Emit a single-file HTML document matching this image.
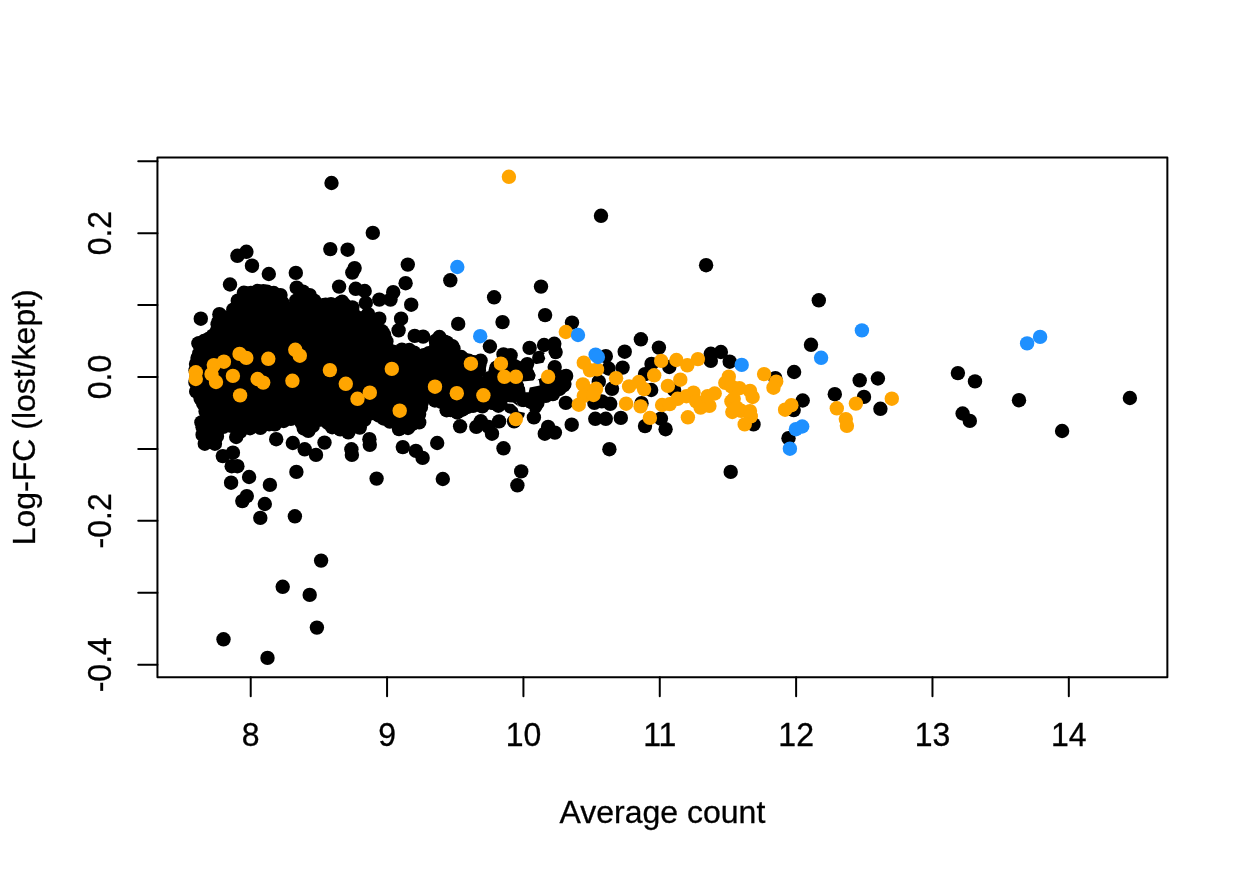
<!DOCTYPE html><html><head><meta charset="utf-8"><title>plot</title><style>html,body{margin:0;padding:0;background:#fff}svg{display:block;will-change:transform}text{font-family:"Liberation Sans",sans-serif;font-size:32px;fill:#000;stroke:#000;stroke-width:0.3px}</style></head><body>
<svg width="1248" height="873" viewBox="0 0 1248 873">
<rect width="1248" height="873" fill="#fff"/>
<path fill="#000" fill-rule="evenodd" d="M201.0,353.4 L201.1,354.2 L201.1,355.0 L201.0,355.8 L200.8,356.6 L197.3,370.5 L197.3,383.4 L200.5,398.0 L206.8,406.4 L207.3,407.1 L207.7,407.9 L208.0,408.7 L208.3,409.6 L208.4,410.4 L208.5,411.3 L208.5,412.1 L208.4,413.0 L208.2,413.9 L208.0,414.7 L205.0,422.7 L205.7,430.6 L210.9,437.0 L214.4,436.4 L214.8,432.9 L215.0,432.1 L215.2,431.3 L215.5,430.5 L215.9,429.7 L216.3,429.0 L216.8,428.4 L217.4,427.7 L218.1,427.2 L218.8,426.7 L219.5,426.3 L220.3,425.9 L221.1,425.7 L229.8,423.2 L230.6,423.0 L231.4,422.9 L232.3,422.8 L233.1,422.9 L233.9,423.0 L234.8,423.2 L235.5,423.5 L236.3,423.9 L237.0,424.3 L237.7,424.8 L238.3,425.4 L238.9,426.0 L239.4,426.7 L240.4,428.3 L246.3,425.9 L247.1,425.7 L247.9,425.5 L248.7,425.4 L249.6,425.3 L263.1,425.3 L276.6,420.8 L291.5,415.8 L292.3,415.6 L293.2,415.4 L294.0,415.4 L294.8,415.4 L295.6,415.5 L296.4,415.6 L297.2,415.9 L298.0,416.2 L298.7,416.6 L299.4,417.0 L300.1,417.6 L300.7,418.1 L301.2,418.8 L301.7,419.5 L302.1,420.2 L305.8,427.5 L307.5,428.4 L313.0,422.9 L313.7,422.3 L314.4,421.8 L315.1,421.3 L315.9,421.0 L316.7,420.7 L317.6,420.5 L318.5,420.4 L319.3,420.3 L320.2,420.4 L321.1,420.6 L321.9,420.8 L336.8,425.8 L348.6,429.7 L360.0,424.8 L363.6,417.7 L364.0,416.9 L364.5,416.2 L365.1,415.6 L365.7,415.0 L366.4,414.4 L367.1,414.0 L367.9,413.6 L368.7,413.3 L369.6,413.1 L370.4,412.9 L371.3,412.9 L372.2,412.9 L373.0,413.0 L373.9,413.3 L386.3,417.0 L387.0,417.2 L387.7,417.6 L388.4,417.9 L396.2,422.8 L407.2,422.8 L416.0,419.9 L417.5,412.4 L417.6,412.0 L420.1,402.1 L420.4,401.2 L420.7,400.4 L421.1,399.7 L421.6,398.9 L422.2,398.3 L422.8,397.7 L423.5,397.1 L424.2,396.6 L425.0,396.3 L425.8,395.9 L426.6,395.7 L427.5,395.6 L428.4,395.5 L429.2,395.5 L430.1,395.6 L430.9,395.8 L431.8,396.1 L443.6,400.8 L444.4,401.2 L445.2,401.7 L445.9,402.2 L446.5,402.8 L447.1,403.5 L447.6,404.2 L448.1,404.9 L448.5,405.8 L448.7,406.6 L448.9,407.5 L449.2,409.1 L454.0,409.4 L459.2,409.7 L459.5,409.2 L460.0,408.5 L460.6,407.9 L461.2,407.3 L461.9,406.9 L462.6,406.4 L463.4,406.1 L464.2,405.8 L465.0,405.6 L465.8,405.5 L466.5,405.4 L474.1,402.2 L475.0,401.9 L475.9,401.7 L476.7,401.5 L477.6,401.5 L478.5,401.6 L479.4,401.7 L483.6,402.6 L499.7,402.6 L499.7,402.0 L499.9,401.2 L500.1,400.3 L500.4,399.5 L500.7,398.8 L501.2,398.0 L501.7,397.4 L502.2,396.7 L502.9,396.2 L503.6,395.7 L504.3,395.2 L505.1,394.9 L505.9,394.6 L506.7,394.4 L507.5,394.3 L508.4,394.2 L513.0,394.2 L513.9,394.3 L514.7,394.4 L515.6,394.6 L516.4,394.9 L517.2,395.3 L517.9,395.8 L517.8,395.5 L517.5,394.7 L517.3,393.8 L516.7,390.3 L515.2,388.9 L514.6,388.2 L514.1,387.5 L513.7,386.7 L513.3,385.9 L513.0,385.0 L512.8,384.2 L512.7,383.3 L512.7,382.4 L512.8,381.5 L513.0,380.6 L513.5,378.4 L513.8,377.5 L514.1,376.7 L514.5,376.0 L515.0,375.3 L515.5,374.6 L516.2,374.0 L516.8,373.4 L517.6,373.0 L518.3,372.6 L519.1,372.2 L520.0,372.0 L520.8,371.8 L521.7,371.8 L522.5,371.8 L523.4,371.9 L524.6,372.1 L524.4,371.5 L524.2,370.7 L524.0,369.9 L523.9,369.1 L523.9,368.4 L523.8,368.4 L522.9,368.6 L522.1,368.6 L521.3,368.6 L520.5,368.5 L516.0,367.7 L507.0,366.2 L499.1,366.9 L498.9,367.1 L496.9,373.7 L496.4,379.5 L496.3,380.3 L496.1,381.2 L495.8,382.0 L495.5,382.7 L495.0,383.5 L494.5,384.2 L494.0,384.8 L493.4,385.4 L492.7,385.9 L492.0,386.4 L491.2,386.7 L490.4,387.0 L489.6,387.3 L488.8,387.4 L487.9,387.5 L487.1,387.5 L486.3,387.4 L485.4,387.2 L484.6,386.9 L483.8,386.6 L483.1,386.2 L478.6,383.4 L477.9,382.9 L477.2,382.3 L476.6,381.6 L476.1,380.9 L475.6,380.2 L475.2,379.4 L474.9,378.6 L474.7,377.7 L474.6,376.9 L474.5,376.0 L474.6,375.1 L474.7,374.2 L474.9,373.4 L475.2,372.6 L476.6,369.3 L477.6,365.1 L477.1,364.8 L475.6,364.7 L474.8,364.6 L474.1,364.4 L464.9,362.0 L464.0,361.7 L463.2,361.4 L456.3,357.9 L455.6,357.5 L454.8,357.0 L454.2,356.4 L453.6,355.8 L453.0,355.1 L452.6,354.3 L452.2,353.5 L451.9,352.7 L451.7,351.9 L451.1,348.9 L450.5,348.6 L449.7,348.2 L449.1,347.7 L444.3,343.9 L443.7,343.4 L443.1,342.8 L443.1,342.7 L443.1,342.7 L442.3,342.3 L441.7,341.8 L441.2,341.4 L438.1,342.0 L437.0,346.6 L436.7,347.5 L436.4,348.2 L436.0,349.0 L435.5,349.7 L435.0,350.4 L434.4,351.0 L433.7,351.5 L433.0,352.0 L432.3,352.4 L431.5,352.7 L430.7,353.0 L420.7,355.4 L419.8,355.6 L419.0,355.7 L418.1,355.7 L417.2,355.6 L416.4,355.4 L415.5,355.1 L414.7,354.8 L407.3,351.1 L395.2,353.1 L394.3,353.2 L393.5,353.2 L392.6,353.2 L391.8,353.0 L391.0,352.8 L390.2,352.5 L389.5,352.1 L388.7,351.6 L388.1,351.1 L387.5,350.5 L386.9,349.9 L386.4,349.2 L386.0,348.5 L385.6,347.7 L385.4,346.9 L383.2,339.2 L378.7,331.4 L378.2,330.4 L374.8,321.8 L358.8,316.8 L358.1,316.5 L357.4,316.2 L356.7,315.8 L341.5,306.0 L332.4,306.0 L320.9,308.3 L320.0,308.4 L319.2,308.5 L318.3,308.4 L317.5,308.3 L316.6,308.1 L315.8,307.8 L315.1,307.4 L314.3,307.0 L313.6,306.5 L313.0,305.9 L304.5,297.4 L302.8,296.8 L299.8,309.3 L299.5,310.1 L299.2,310.9 L298.8,311.6 L298.3,312.4 L297.8,313.0 L297.2,313.6 L296.6,314.2 L295.8,314.7 L295.1,315.1 L294.3,315.4 L293.5,315.7 L292.6,315.8 L291.8,315.9 L290.9,315.9 L290.1,315.8 L289.2,315.7 L288.4,315.4 L287.6,315.1 L286.9,314.7 L286.2,314.2 L285.5,313.7 L284.9,313.1 L284.3,312.4 L283.9,311.7 L283.5,311.0 L283.1,310.2 L279.3,299.6 L276.2,296.5 L263.7,293.6 L247.9,294.6 L245.8,296.3 L242.9,305.0 L242.6,305.7 L242.3,306.4 L241.9,307.1 L241.4,307.7 L240.9,308.3 L240.3,308.9 L231.6,316.3 L230.9,316.9 L230.1,317.4 L229.3,317.7 L228.4,318.1 L221.5,320.1 L220.9,325.6 L220.8,326.5 L220.5,327.3 L220.2,328.2 L219.8,329.0 L214.8,337.7 L214.4,338.3 L213.9,339.0 L213.3,339.6 L212.7,340.1 L212.0,340.6 L211.3,341.0 L210.6,341.4 L209.8,341.7 L201.0,344.3 L200.1,346.1 L201.0,353.4ZM531.4,400.5 L531.5,400.6 L532.6,400.8 L536.2,402.1 L537.2,398.7 L537.5,397.9 L537.9,397.1 L538.3,396.4 L538.8,395.7 L539.4,395.0 L539.7,394.8 L539.4,394.8 L537.0,394.8 L536.9,395.2 L536.6,395.9 L536.2,396.6 L535.8,397.3 L535.2,398.0 L534.7,398.6 L534.0,399.1 L533.4,399.6 L532.7,400.0 L531.9,400.3 L531.4,400.5ZM547.6,388.8 L547.9,388.7 L548.7,388.4 L549.6,388.2 L550.4,388.1 L551.3,388.0 L552.1,388.1 L552.9,388.2 L553.8,388.5 L554.6,388.8 L558.2,390.3 L558.2,390.2 L558.3,389.4 L558.5,388.6 L558.8,387.8 L559.2,387.1 L559.6,386.4 L560.1,385.7 L560.6,385.1 L561.2,384.5 L561.6,384.2 L561.5,383.5 L561.6,382.7 L561.7,381.8 L561.8,381.0 L562.1,380.2 L562.5,379.4 L562.9,378.4 L562.6,378.3 L559.5,379.8 L558.8,380.2 L558.0,380.4 L557.2,380.6 L556.3,380.7 L548.1,381.4 L548.1,386.1 L548.0,386.9 L547.9,387.8 L547.7,388.6 L547.6,388.8Z"/>
<g fill="#000">
<circle cx="409.3" cy="350.0" r="7.2"/>
<circle cx="389.9" cy="421.6" r="7.2"/>
<circle cx="202.7" cy="359.7" r="7.2"/>
<circle cx="399.0" cy="422.8" r="7.2"/>
<circle cx="328.0" cy="422.9" r="7.2"/>
<circle cx="203.8" cy="421.5" r="7.2"/>
<circle cx="330.0" cy="309.0" r="7.2"/>
<circle cx="515.9" cy="394.8" r="7.2"/>
<circle cx="499.1" cy="401.3" r="7.2"/>
<circle cx="473.7" cy="362.1" r="7.2"/>
<circle cx="241.7" cy="313.2" r="7.2"/>
<circle cx="559.4" cy="389.0" r="7.2"/>
<circle cx="243.2" cy="426.8" r="7.2"/>
<circle cx="351.0" cy="428.0" r="7.2"/>
<circle cx="358.3" cy="318.0" r="7.2"/>
<circle cx="221.4" cy="326.6" r="7.2"/>
<circle cx="386.4" cy="341.4" r="7.2"/>
<circle cx="400.7" cy="356.5" r="7.2"/>
<circle cx="209.1" cy="407.2" r="7.2"/>
<circle cx="250.0" cy="428.2" r="7.2"/>
<circle cx="450.7" cy="354.3" r="7.2"/>
<circle cx="235.1" cy="314.8" r="7.2"/>
<circle cx="378.7" cy="415.5" r="7.2"/>
<circle cx="289.5" cy="315.0" r="7.2"/>
<circle cx="210.7" cy="415.6" r="7.2"/>
<circle cx="411.9" cy="424.2" r="7.2"/>
<circle cx="427.6" cy="392.5" r="7.2"/>
<circle cx="491.4" cy="402.6" r="7.2"/>
<circle cx="480.0" cy="382.9" r="7.2"/>
<circle cx="216.9" cy="330.8" r="7.2"/>
<circle cx="499.8" cy="366.7" r="7.2"/>
<circle cx="539.4" cy="397.3" r="7.2"/>
<circle cx="300.9" cy="297.9" r="7.2"/>
<circle cx="401.9" cy="349.6" r="7.2"/>
<circle cx="406.5" cy="423.4" r="7.2"/>
<circle cx="340.2" cy="429.3" r="7.2"/>
<circle cx="551.5" cy="387.1" r="7.2"/>
<circle cx="278.8" cy="295.7" r="7.2"/>
<circle cx="247.2" cy="298.4" r="7.2"/>
<circle cx="441.8" cy="347.3" r="7.2"/>
<circle cx="257.4" cy="291.0" r="7.2"/>
<circle cx="458.7" cy="357.5" r="7.2"/>
<circle cx="251.4" cy="422.9" r="7.2"/>
<circle cx="495.4" cy="388.4" r="7.2"/>
<circle cx="371.2" cy="413.2" r="7.2"/>
<circle cx="556.7" cy="377.9" r="7.2"/>
<circle cx="199.9" cy="373.2" r="7.2"/>
<circle cx="387.2" cy="348.0" r="7.2"/>
<circle cx="376.7" cy="325.8" r="7.2"/>
<circle cx="365.0" cy="317.5" r="7.2"/>
<circle cx="467.5" cy="407.0" r="7.2"/>
<circle cx="382.0" cy="347.2" r="7.2"/>
<circle cx="519.5" cy="373.7" r="7.2"/>
<circle cx="563.2" cy="377.0" r="7.2"/>
<circle cx="423.8" cy="355.3" r="7.2"/>
<circle cx="198.6" cy="387.1" r="7.2"/>
<circle cx="278.5" cy="306.4" r="7.2"/>
<circle cx="223.3" cy="426.9" r="7.2"/>
<circle cx="322.8" cy="311.8" r="7.2"/>
<circle cx="511.4" cy="383.1" r="7.2"/>
<circle cx="196.0" cy="364.1" r="7.2"/>
<circle cx="377.4" cy="409.9" r="7.2"/>
<circle cx="454.0" cy="408.4" r="7.2"/>
<circle cx="335.6" cy="422.9" r="7.2"/>
<circle cx="440.9" cy="401.7" r="7.2"/>
<circle cx="199.3" cy="353.3" r="7.2"/>
<circle cx="353.0" cy="318.4" r="7.2"/>
<circle cx="256.9" cy="424.0" r="7.2"/>
<circle cx="420.9" cy="407.5" r="7.2"/>
<circle cx="357.7" cy="422.7" r="7.2"/>
<circle cx="281.6" cy="311.5" r="7.2"/>
<circle cx="320.5" cy="419.6" r="7.2"/>
<circle cx="382.0" cy="331.3" r="7.2"/>
<circle cx="212.9" cy="335.6" r="7.2"/>
<circle cx="261.9" cy="296.1" r="7.2"/>
<circle cx="496.1" cy="376.7" r="7.2"/>
<circle cx="250.9" cy="292.9" r="7.2"/>
<circle cx="227.2" cy="420.8" r="7.2"/>
<circle cx="428.9" cy="353.2" r="7.2"/>
<circle cx="216.9" cy="436.4" r="7.2"/>
<circle cx="524.0" cy="368.7" r="7.2"/>
<circle cx="207.8" cy="429.5" r="7.2"/>
<circle cx="312.8" cy="425.8" r="7.2"/>
<circle cx="215.5" cy="424.6" r="7.2"/>
<circle cx="504.3" cy="369.4" r="7.2"/>
<circle cx="422.4" cy="396.5" r="7.2"/>
<circle cx="287.6" cy="412.9" r="7.2"/>
<circle cx="200.9" cy="380.3" r="7.2"/>
<circle cx="298.5" cy="308.9" r="7.2"/>
<circle cx="345.4" cy="311.1" r="7.2"/>
<circle cx="414.8" cy="419.5" r="7.2"/>
<circle cx="388.1" cy="355.5" r="7.2"/>
<circle cx="198.8" cy="343.4" r="7.2"/>
<circle cx="469.5" cy="401.9" r="7.2"/>
<circle cx="449.5" cy="348.9" r="7.2"/>
<circle cx="388.9" cy="413.8" r="7.2"/>
<circle cx="231.4" cy="425.9" r="7.2"/>
<circle cx="309.5" cy="421.6" r="7.2"/>
<circle cx="441.7" cy="341.7" r="7.2"/>
<circle cx="339.6" cy="303.5" r="7.2"/>
<circle cx="237.3" cy="427.2" r="7.2"/>
<circle cx="417.3" cy="359.6" r="7.2"/>
<circle cx="499.6" cy="396.2" r="7.2"/>
<circle cx="236.2" cy="419.6" r="7.2"/>
<circle cx="274.9" cy="424.4" r="7.2"/>
<circle cx="196.6" cy="377.3" r="7.2"/>
<circle cx="543.9" cy="392.6" r="7.2"/>
<circle cx="469.8" cy="366.8" r="7.2"/>
<circle cx="216.9" cy="341.1" r="7.2"/>
<circle cx="224.2" cy="317.4" r="7.2"/>
<circle cx="436.0" cy="351.3" r="7.2"/>
<circle cx="459.3" cy="404.8" r="7.2"/>
<circle cx="546.3" cy="384.5" r="7.2"/>
<circle cx="523.3" cy="400.1" r="7.2"/>
<circle cx="296.0" cy="317.1" r="7.2"/>
<circle cx="512.2" cy="367.0" r="7.2"/>
<circle cx="474.9" cy="375.1" r="7.2"/>
<circle cx="459.2" cy="362.9" r="7.2"/>
<circle cx="514.2" cy="373.8" r="7.2"/>
<circle cx="269.6" cy="298.4" r="7.2"/>
<circle cx="392.9" cy="351.8" r="7.2"/>
<circle cx="305.4" cy="301.0" r="7.2"/>
<circle cx="283.7" cy="421.0" r="7.2"/>
<circle cx="531.3" cy="402.1" r="7.2"/>
<circle cx="363.6" cy="411.7" r="7.2"/>
<circle cx="315.5" cy="311.1" r="7.2"/>
<circle cx="263.5" cy="421.1" r="7.2"/>
<circle cx="296.3" cy="417.0" r="7.2"/>
<circle cx="419.1" cy="414.0" r="7.2"/>
<circle cx="495.5" cy="371.0" r="7.2"/>
<circle cx="278.6" cy="420.5" r="7.2"/>
<circle cx="242.1" cy="306.9" r="7.2"/>
<circle cx="431.4" cy="396.4" r="7.2"/>
<circle cx="445.0" cy="397.4" r="7.2"/>
<circle cx="325.6" cy="304.7" r="7.2"/>
<circle cx="227.7" cy="322.4" r="7.2"/>
<circle cx="283.6" cy="316.1" r="7.2"/>
<circle cx="202.9" cy="346.6" r="7.2"/>
<circle cx="412.4" cy="358.3" r="7.2"/>
<circle cx="500.3" cy="380.6" r="7.2"/>
<circle cx="205.9" cy="399.0" r="7.2"/>
<circle cx="335.2" cy="307.1" r="7.2"/>
<circle cx="413.1" cy="414.7" r="7.2"/>
<circle cx="369.9" cy="320.2" r="7.2"/>
<circle cx="376.4" cy="331.8" r="7.2"/>
<circle cx="364.3" cy="419.9" r="7.2"/>
<circle cx="506.0" cy="390.7" r="7.2"/>
<circle cx="564.4" cy="383.9" r="7.2"/>
<circle cx="533.2" cy="396.3" r="7.2"/>
<circle cx="319.2" cy="305.9" r="7.2"/>
<circle cx="376.3" cy="319.6" r="7.2"/>
<circle cx="516.4" cy="385.9" r="7.2"/>
<circle cx="516.5" cy="378.6" r="7.2"/>
<circle cx="201.9" cy="391.5" r="7.2"/>
<circle cx="300.1" cy="303.2" r="7.2"/>
<circle cx="204.0" cy="341.0" r="7.2"/>
<circle cx="359.8" cy="427.6" r="7.2"/>
<circle cx="436.2" cy="393.5" r="7.2"/>
<circle cx="482.7" cy="399.0" r="7.2"/>
<circle cx="348.3" cy="432.3" r="7.2"/>
<circle cx="463.9" cy="402.2" r="7.2"/>
<circle cx="200.6" cy="398.6" r="7.2"/>
<circle cx="304.0" cy="418.0" r="7.2"/>
<circle cx="268.5" cy="419.2" r="7.2"/>
<circle cx="475.3" cy="380.2" r="7.2"/>
<circle cx="310.3" cy="309.1" r="7.2"/>
<circle cx="549.6" cy="379.6" r="7.2"/>
<circle cx="528.3" cy="374.8" r="7.2"/>
<circle cx="404.9" cy="418.6" r="7.2"/>
<circle cx="201.9" cy="366.6" r="7.2"/>
<circle cx="479.3" cy="365.4" r="7.2"/>
<circle cx="484.3" cy="387.5" r="7.2"/>
<circle cx="216.3" cy="430.5" r="7.2"/>
<circle cx="352.6" cy="312.4" r="7.2"/>
<circle cx="509.5" cy="395.0" r="7.2"/>
<circle cx="211.7" cy="433.5" r="7.2"/>
<circle cx="345.1" cy="423.8" r="7.2"/>
<circle cx="263.3" cy="291.2" r="7.2"/>
<circle cx="474.9" cy="386.0" r="7.2"/>
<circle cx="450.6" cy="404.6" r="7.2"/>
<circle cx="308.3" cy="430.9" r="7.2"/>
<circle cx="312.6" cy="302.1" r="7.2"/>
<circle cx="451.8" cy="359.6" r="7.2"/>
<circle cx="301.4" cy="422.5" r="7.2"/>
<circle cx="304.5" cy="306.0" r="7.2"/>
<circle cx="205.6" cy="411.4" r="7.2"/>
<circle cx="209.5" cy="420.7" r="7.2"/>
<circle cx="273.7" cy="293.0" r="7.2"/>
<circle cx="517.6" cy="367.8" r="7.2"/>
<circle cx="246.4" cy="422.2" r="7.2"/>
<circle cx="359.2" cy="417.5" r="7.2"/>
<circle cx="196.2" cy="391.5" r="7.2"/>
<circle cx="414.5" cy="406.6" r="7.2"/>
<circle cx="218.7" cy="321.4" r="7.2"/>
<circle cx="260.4" cy="427.8" r="7.2"/>
<circle cx="206.7" cy="434.8" r="7.2"/>
<circle cx="495.1" cy="383.0" r="7.2"/>
<circle cx="202.6" cy="427.2" r="7.2"/>
<circle cx="537.4" cy="403.0" r="7.2"/>
<circle cx="477.3" cy="401.2" r="7.2"/>
<circle cx="269.2" cy="424.2" r="7.2"/>
<circle cx="218.7" cy="336.4" r="7.2"/>
<circle cx="559.2" cy="382.5" r="7.2"/>
<circle cx="489.7" cy="389.9" r="7.2"/>
<circle cx="195.6" cy="370.3" r="7.2"/>
<circle cx="380.0" cy="342.4" r="7.2"/>
<circle cx="446.6" cy="410.2" r="7.2"/>
<circle cx="222.7" cy="332.8" r="7.2"/>
<circle cx="245.2" cy="293.1" r="7.2"/>
<circle cx="290.5" cy="320.2" r="7.2"/>
<circle cx="208.5" cy="343.4" r="7.2"/>
<circle cx="285.1" cy="307.4" r="7.2"/>
<circle cx="478.9" cy="370.4" r="7.2"/>
<circle cx="384.2" cy="336.4" r="7.2"/>
<circle cx="383.3" cy="413.5" r="7.2"/>
<circle cx="344.6" cy="304.9" r="7.2"/>
<circle cx="485.1" cy="403.5" r="7.2"/>
<circle cx="470.3" cy="378.5" r="7.2"/>
<circle cx="435.8" cy="340.7" r="7.2"/>
<circle cx="247.6" cy="303.5" r="7.2"/>
<circle cx="394.2" cy="416.9" r="7.2"/>
<circle cx="436.2" cy="345.8" r="7.2"/>
<circle cx="462.7" cy="409.3" r="7.2"/>
<circle cx="434.9" cy="400.5" r="7.2"/>
<circle cx="464.7" cy="364.4" r="7.2"/>
<circle cx="220.1" cy="421.3" r="7.2"/>
<circle cx="468.7" cy="360.7" r="7.2"/>
<circle cx="203.1" cy="403.3" r="7.2"/>
<circle cx="197.5" cy="358.1" r="7.2"/>
<circle cx="279.8" cy="301.1" r="7.2"/>
<circle cx="378.2" cy="337.7" r="7.2"/>
<circle cx="457.2" cy="412.5" r="7.2"/>
<circle cx="290.8" cy="418.8" r="7.2"/>
<circle cx="416.7" cy="399.9" r="7.2"/>
<circle cx="252.7" cy="297.8" r="7.2"/>
<circle cx="300.8" cy="413.2" r="7.2"/>
<circle cx="383.6" cy="418.5" r="7.2"/>
<circle cx="302.3" cy="314.2" r="7.2"/>
<circle cx="332.2" cy="427.2" r="7.2"/>
<circle cx="405.5" cy="355.0" r="7.2"/>
<circle cx="394.6" cy="357.3" r="7.2"/>
<circle cx="242.9" cy="301.2" r="7.2"/>
<circle cx="447.0" cy="342.7" r="7.2"/>
<circle cx="421.8" cy="402.4" r="7.2"/>
<circle cx="414.1" cy="352.7" r="7.2"/>
<circle cx="281.1" cy="415.9" r="7.2"/>
<circle cx="209.3" cy="439.5" r="7.2"/>
<circle cx="339.7" cy="310.3" r="7.2"/>
<circle cx="314.7" cy="418.4" r="7.2"/>
<circle cx="237.6" cy="309.7" r="7.2"/>
<circle cx="509.5" cy="378.1" r="7.2"/>
<circle cx="205.2" cy="352.8" r="7.2"/>
<circle cx="303.8" cy="428.5" r="7.2"/>
<circle cx="433.6" cy="356.2" r="7.2"/>
<circle cx="229.9" cy="317.5" r="7.2"/>
<circle cx="273.5" cy="418.1" r="7.2"/>
<circle cx="506.3" cy="363.3" r="7.2"/>
<circle cx="473.0" cy="405.9" r="7.2"/>
<circle cx="505.0" cy="397.8" r="7.2"/>
<circle cx="363.3" cy="322.3" r="7.2"/>
<circle cx="512.3" cy="389.5" r="7.2"/>
<circle cx="518.6" cy="390.5" r="7.2"/>
<circle cx="268.1" cy="293.2" r="7.2"/>
<circle cx="324.9" cy="417.1" r="7.2"/>
<circle cx="500.9" cy="374.9" r="7.2"/>
<circle cx="463.4" cy="359.2" r="7.2"/>
<circle cx="306.2" cy="296.0" r="7.2"/>
<circle cx="536.3" cy="391.9" r="7.2"/>
<circle cx="371.6" cy="325.4" r="7.2"/>
<circle cx="293.3" cy="411.9" r="7.2"/>
<circle cx="240.3" cy="431.6" r="7.2"/>
<circle cx="240.5" cy="422.5" r="7.2"/>
<circle cx="195.5" cy="382.4" r="7.2"/>
</g>
<g fill="#000">
<circle cx="957.9" cy="373.1" r="7.2"/>
<circle cx="975.0" cy="381.4" r="7.2"/>
<circle cx="1019.0" cy="400.2" r="7.2"/>
<circle cx="1129.9" cy="398.0" r="7.2"/>
<circle cx="962.6" cy="413.5" r="7.2"/>
<circle cx="969.8" cy="420.9" r="7.2"/>
<circle cx="1062.1" cy="431.0" r="7.2"/>
<circle cx="811.0" cy="344.8" r="7.2"/>
<circle cx="794.1" cy="372.0" r="7.2"/>
<circle cx="859.7" cy="380.3" r="7.2"/>
<circle cx="877.9" cy="378.5" r="7.2"/>
<circle cx="834.8" cy="394.2" r="7.2"/>
<circle cx="864.0" cy="396.9" r="7.2"/>
<circle cx="880.4" cy="408.8" r="7.2"/>
<circle cx="802.7" cy="400.5" r="7.2"/>
<circle cx="793.7" cy="410.1" r="7.2"/>
<circle cx="788.5" cy="438.2" r="7.2"/>
<circle cx="640.9" cy="339.3" r="7.2"/>
<circle cx="658.9" cy="347.6" r="7.2"/>
<circle cx="651.5" cy="363.9" r="7.2"/>
<circle cx="645.0" cy="374.1" r="7.2"/>
<circle cx="651.2" cy="390.0" r="7.2"/>
<circle cx="669.3" cy="367.0" r="7.2"/>
<circle cx="710.8" cy="353.8" r="7.2"/>
<circle cx="720.9" cy="352.0" r="7.2"/>
<circle cx="710.8" cy="360.9" r="7.2"/>
<circle cx="729.7" cy="361.7" r="7.2"/>
<circle cx="753.5" cy="424.4" r="7.2"/>
<circle cx="641.5" cy="403.2" r="7.2"/>
<circle cx="660.9" cy="418.6" r="7.2"/>
<circle cx="645.0" cy="426.1" r="7.2"/>
<circle cx="674.1" cy="390.0" r="7.2"/>
<circle cx="502.5" cy="322.1" r="7.2"/>
<circle cx="572.0" cy="322.6" r="7.2"/>
<circle cx="624.7" cy="351.7" r="7.2"/>
<circle cx="489.9" cy="346.5" r="7.2"/>
<circle cx="529.6" cy="347.9" r="7.2"/>
<circle cx="544.1" cy="345.0" r="7.2"/>
<circle cx="554.3" cy="343.8" r="7.2"/>
<circle cx="555.6" cy="352.1" r="7.2"/>
<circle cx="539.3" cy="357.9" r="7.2"/>
<circle cx="503.5" cy="354.4" r="7.2"/>
<circle cx="510.6" cy="355.3" r="7.2"/>
<circle cx="554.7" cy="367.1" r="7.2"/>
<circle cx="566.1" cy="375.9" r="7.2"/>
<circle cx="527.3" cy="364.1" r="7.2"/>
<circle cx="528.2" cy="375.6" r="7.2"/>
<circle cx="605.8" cy="356.2" r="7.2"/>
<circle cx="608.5" cy="368.5" r="7.2"/>
<circle cx="622.6" cy="367.6" r="7.2"/>
<circle cx="565.8" cy="402.9" r="7.2"/>
<circle cx="533.9" cy="417.4" r="7.2"/>
<circle cx="594.4" cy="402.9" r="7.2"/>
<circle cx="610.2" cy="403.8" r="7.2"/>
<circle cx="595.3" cy="418.8" r="7.2"/>
<circle cx="605.8" cy="418.8" r="7.2"/>
<circle cx="620.8" cy="417.9" r="7.2"/>
<circle cx="612.0" cy="388.8" r="7.2"/>
<circle cx="598.8" cy="381.7" r="7.2"/>
<circle cx="480.6" cy="360.6" r="7.2"/>
<circle cx="475.3" cy="374.7" r="7.2"/>
<circle cx="489.4" cy="378.2" r="7.2"/>
<circle cx="496.5" cy="367.6" r="7.2"/>
<circle cx="514.1" cy="365.9" r="7.2"/>
<circle cx="517.6" cy="381.7" r="7.2"/>
<circle cx="531.7" cy="388.8" r="7.2"/>
<circle cx="542.3" cy="385.3" r="7.2"/>
<circle cx="552.9" cy="388.8" r="7.2"/>
<circle cx="563.5" cy="385.3" r="7.2"/>
<circle cx="560.0" cy="378.2" r="7.2"/>
<circle cx="545.9" cy="395.9" r="7.2"/>
<circle cx="535.3" cy="399.4" r="7.2"/>
<circle cx="524.7" cy="395.9" r="7.2"/>
<circle cx="510.6" cy="388.8" r="7.2"/>
<circle cx="500.0" cy="388.8" r="7.2"/>
<circle cx="500.0" cy="399.4" r="7.2"/>
<circle cx="468.2" cy="388.8" r="7.2"/>
<circle cx="468.2" cy="402.9" r="7.2"/>
<circle cx="482.3" cy="406.4" r="7.2"/>
<circle cx="492.9" cy="402.9" r="7.2"/>
<circle cx="510.6" cy="406.4" r="7.2"/>
<circle cx="535.3" cy="406.4" r="7.2"/>
<circle cx="517.6" cy="413.5" r="7.2"/>
<circle cx="552.9" cy="394.1" r="7.2"/>
<circle cx="601.0" cy="215.8" r="7.2"/>
<circle cx="541.0" cy="286.6" r="7.2"/>
<circle cx="494.1" cy="297.3" r="7.2"/>
<circle cx="545.1" cy="315.1" r="7.2"/>
<circle cx="331.5" cy="183.0" r="7.2"/>
<circle cx="372.8" cy="232.9" r="7.2"/>
<circle cx="330.3" cy="249.1" r="7.2"/>
<circle cx="347.6" cy="249.7" r="7.2"/>
<circle cx="237.4" cy="255.8" r="7.2"/>
<circle cx="246.4" cy="251.8" r="7.2"/>
<circle cx="252.0" cy="265.7" r="7.2"/>
<circle cx="268.8" cy="274.0" r="7.2"/>
<circle cx="295.8" cy="272.9" r="7.2"/>
<circle cx="230.0" cy="284.5" r="7.2"/>
<circle cx="354.6" cy="268.1" r="7.2"/>
<circle cx="352.3" cy="272.6" r="7.2"/>
<circle cx="407.8" cy="264.6" r="7.2"/>
<circle cx="405.6" cy="283.2" r="7.2"/>
<circle cx="339.1" cy="286.6" r="7.2"/>
<circle cx="355.7" cy="288.8" r="7.2"/>
<circle cx="364.7" cy="291.0" r="7.2"/>
<circle cx="296.7" cy="287.7" r="7.2"/>
<circle cx="393.2" cy="292.2" r="7.2"/>
<circle cx="379.3" cy="299.6" r="7.2"/>
<circle cx="390.5" cy="299.6" r="7.2"/>
<circle cx="365.8" cy="303.0" r="7.2"/>
<circle cx="411.2" cy="304.7" r="7.2"/>
<circle cx="401.1" cy="318.7" r="7.2"/>
<circle cx="200.8" cy="318.7" r="7.2"/>
<circle cx="219.4" cy="314.2" r="7.2"/>
<circle cx="217.6" cy="324.3" r="7.2"/>
<circle cx="243.9" cy="292.8" r="7.2"/>
<circle cx="259.2" cy="291.7" r="7.2"/>
<circle cx="267.0" cy="291.7" r="7.2"/>
<circle cx="280.5" cy="295.1" r="7.2"/>
<circle cx="309.7" cy="295.1" r="7.2"/>
<circle cx="331.0" cy="304.1" r="7.2"/>
<circle cx="342.2" cy="301.8" r="7.2"/>
<circle cx="379.3" cy="318.7" r="7.2"/>
<circle cx="303.0" cy="291.7" r="7.2"/>
<circle cx="314.2" cy="300.7" r="7.2"/>
<circle cx="323.2" cy="305.2" r="7.2"/>
<circle cx="352.3" cy="307.4" r="7.2"/>
<circle cx="368.1" cy="314.2" r="7.2"/>
<circle cx="233.3" cy="309.7" r="7.2"/>
<circle cx="224.4" cy="318.7" r="7.2"/>
<circle cx="237.8" cy="300.7" r="7.2"/>
<circle cx="282.7" cy="303.0" r="7.2"/>
<circle cx="296.2" cy="300.7" r="7.2"/>
<circle cx="398.6" cy="330.3" r="7.2"/>
<circle cx="414.7" cy="335.9" r="7.2"/>
<circle cx="276.2" cy="439.2" r="7.2"/>
<circle cx="292.8" cy="443.0" r="7.2"/>
<circle cx="324.5" cy="442.6" r="7.2"/>
<circle cx="304.7" cy="449.3" r="7.2"/>
<circle cx="316.0" cy="454.9" r="7.2"/>
<circle cx="351.4" cy="449.3" r="7.2"/>
<circle cx="351.9" cy="454.9" r="7.2"/>
<circle cx="369.4" cy="439.2" r="7.2"/>
<circle cx="369.8" cy="444.8" r="7.2"/>
<circle cx="402.8" cy="447.1" r="7.2"/>
<circle cx="415.9" cy="450.9" r="7.2"/>
<circle cx="422.6" cy="457.9" r="7.2"/>
<circle cx="236.2" cy="437.0" r="7.2"/>
<circle cx="204.8" cy="443.7" r="7.2"/>
<circle cx="214.9" cy="443.7" r="7.2"/>
<circle cx="222.8" cy="456.1" r="7.2"/>
<circle cx="232.9" cy="452.7" r="7.2"/>
<circle cx="231.7" cy="466.2" r="7.2"/>
<circle cx="237.4" cy="466.2" r="7.2"/>
<circle cx="202.6" cy="434.7" r="7.2"/>
<circle cx="201.4" cy="422.4" r="7.2"/>
<circle cx="399.0" cy="429.1" r="7.2"/>
<circle cx="408.0" cy="428.0" r="7.2"/>
<circle cx="419.2" cy="422.4" r="7.2"/>
<circle cx="249.1" cy="477.0" r="7.2"/>
<circle cx="231.1" cy="482.7" r="7.2"/>
<circle cx="269.9" cy="484.9" r="7.2"/>
<circle cx="296.4" cy="471.9" r="7.2"/>
<circle cx="246.8" cy="496.1" r="7.2"/>
<circle cx="242.3" cy="501.1" r="7.2"/>
<circle cx="264.8" cy="504.0" r="7.2"/>
<circle cx="260.3" cy="517.9" r="7.2"/>
<circle cx="294.9" cy="516.3" r="7.2"/>
<circle cx="376.6" cy="478.6" r="7.2"/>
<circle cx="321.1" cy="560.6" r="7.2"/>
<circle cx="282.7" cy="586.8" r="7.2"/>
<circle cx="309.7" cy="594.9" r="7.2"/>
<circle cx="223.5" cy="639.3" r="7.2"/>
<circle cx="267.5" cy="657.9" r="7.2"/>
<circle cx="316.9" cy="627.6" r="7.2"/>
<circle cx="503.5" cy="448.3" r="7.2"/>
<circle cx="521.2" cy="471.4" r="7.2"/>
<circle cx="517.4" cy="485.3" r="7.2"/>
<circle cx="609.4" cy="449.2" r="7.2"/>
<circle cx="476.3" cy="426.9" r="7.2"/>
<circle cx="492.0" cy="433.7" r="7.2"/>
<circle cx="488.6" cy="426.9" r="7.2"/>
<circle cx="544.8" cy="433.7" r="7.2"/>
<circle cx="548.1" cy="426.9" r="7.2"/>
<circle cx="554.9" cy="432.6" r="7.2"/>
<circle cx="665.6" cy="429.2" r="7.2"/>
<circle cx="730.7" cy="471.9" r="7.2"/>
<circle cx="466.4" cy="360.8" r="7.2"/>
<circle cx="498.4" cy="405.7" r="7.2"/>
<circle cx="552.3" cy="379.9" r="7.2"/>
<circle cx="571.7" cy="424.7" r="7.2"/>
<circle cx="460.1" cy="426.3" r="7.2"/>
<circle cx="499.1" cy="421.4" r="7.2"/>
<circle cx="514.1" cy="421.4" r="7.2"/>
<circle cx="480.8" cy="421.3" r="7.2"/>
<circle cx="461.2" cy="357.0" r="7.2"/>
<circle cx="461.2" cy="374.7" r="7.2"/>
<circle cx="461.2" cy="410.0" r="7.2"/>
<circle cx="383.8" cy="334.4" r="7.2"/>
<circle cx="458.2" cy="323.9" r="7.2"/>
<circle cx="775.3" cy="378.2" r="7.2"/>
<circle cx="208.6" cy="338.9" r="7.2"/>
<circle cx="706.1" cy="265.2" r="7.2"/>
<circle cx="423.1" cy="336.6" r="7.2"/>
<circle cx="453.5" cy="348.5" r="7.2"/>
<circle cx="437.2" cy="443.0" r="7.2"/>
<circle cx="452.3" cy="346.2" r="7.2"/>
<circle cx="450.6" cy="364.1" r="7.2"/>
<circle cx="450.6" cy="410.0" r="7.2"/>
<circle cx="439.4" cy="337.0" r="7.2"/>
<circle cx="818.8" cy="300.3" r="7.2"/>
<circle cx="450.3" cy="280.3" r="7.2"/>
<circle cx="198.5" cy="343.4" r="7.2"/>
<circle cx="442.8" cy="479.0" r="7.2"/>
<circle cx="446.7" cy="357.5" r="7.2"/>
<circle cx="445.3" cy="350.0" r="7.2"/>
<circle cx="444.5" cy="341.7" r="7.2"/>
<circle cx="443.5" cy="374.7" r="7.2"/>
<circle cx="443.5" cy="395.9" r="7.2"/>
<circle cx="601.8" cy="401.4" r="7.2"/>
</g>
<g fill="#fff">
<polygon points="522.5,381.6 538.8,379.9 539.7,385.5 529.8,387.5 528.7,392.3 525.5,392.3 524.8,386.1"/>
<polygon points="507.4,402.1 513.0,402.6 518.6,406.4 529.8,408.9 528.1,413.6 518.6,411.6 517.5,408.2 513.0,404.0 507.4,403.5"/>
<polygon points="534.3,364.4 543.3,362.8 545.3,358.6 543.8,354.3 546.1,352.1 548.7,353.5 551.7,359.1 548.0,364.0 541.6,373.7 539.4,379.3 534.9,373.2 533.0,368.7"/>
</g>
<g fill="#FFA500">
<circle cx="791.4" cy="405.2" r="7.2"/>
<circle cx="785.1" cy="409.7" r="7.2"/>
<circle cx="836.8" cy="408.3" r="7.2"/>
<circle cx="855.9" cy="403.6" r="7.2"/>
<circle cx="891.8" cy="398.7" r="7.2"/>
<circle cx="845.8" cy="419.1" r="7.2"/>
<circle cx="846.9" cy="425.8" r="7.2"/>
<circle cx="661.2" cy="360.9" r="7.2"/>
<circle cx="676.4" cy="360.0" r="7.2"/>
<circle cx="687.3" cy="365.3" r="7.2"/>
<circle cx="697.9" cy="359.1" r="7.2"/>
<circle cx="654.2" cy="375.3" r="7.2"/>
<circle cx="629.1" cy="386.4" r="7.2"/>
<circle cx="638.8" cy="382.0" r="7.2"/>
<circle cx="644.1" cy="389.1" r="7.2"/>
<circle cx="667.9" cy="385.9" r="7.2"/>
<circle cx="680.3" cy="379.7" r="7.2"/>
<circle cx="626.1" cy="403.7" r="7.2"/>
<circle cx="640.6" cy="406.4" r="7.2"/>
<circle cx="649.9" cy="417.9" r="7.2"/>
<circle cx="662.1" cy="405.0" r="7.2"/>
<circle cx="669.7" cy="404.1" r="7.2"/>
<circle cx="677.6" cy="398.8" r="7.2"/>
<circle cx="686.4" cy="396.2" r="7.2"/>
<circle cx="693.5" cy="392.6" r="7.2"/>
<circle cx="696.2" cy="401.4" r="7.2"/>
<circle cx="700.6" cy="407.6" r="7.2"/>
<circle cx="709.4" cy="405.9" r="7.2"/>
<circle cx="707.6" cy="396.2" r="7.2"/>
<circle cx="714.7" cy="393.5" r="7.2"/>
<circle cx="687.9" cy="417.3" r="7.2"/>
<circle cx="728.8" cy="376.7" r="7.2"/>
<circle cx="725.3" cy="382.9" r="7.2"/>
<circle cx="731.4" cy="386.4" r="7.2"/>
<circle cx="739.4" cy="388.2" r="7.2"/>
<circle cx="750.0" cy="390.9" r="7.2"/>
<circle cx="752.6" cy="397.0" r="7.2"/>
<circle cx="731.4" cy="401.4" r="7.2"/>
<circle cx="732.3" cy="412.0" r="7.2"/>
<circle cx="741.1" cy="410.8" r="7.2"/>
<circle cx="750.0" cy="411.1" r="7.2"/>
<circle cx="750.8" cy="416.4" r="7.2"/>
<circle cx="744.7" cy="424.4" r="7.2"/>
<circle cx="764.1" cy="374.1" r="7.2"/>
<circle cx="470.9" cy="363.7" r="7.2"/>
<circle cx="500.9" cy="363.7" r="7.2"/>
<circle cx="504.4" cy="376.8" r="7.2"/>
<circle cx="515.9" cy="376.8" r="7.2"/>
<circle cx="548.1" cy="376.8" r="7.2"/>
<circle cx="483.4" cy="395.3" r="7.2"/>
<circle cx="565.8" cy="332.0" r="7.2"/>
<circle cx="583.8" cy="362.7" r="7.2"/>
<circle cx="590.0" cy="370.3" r="7.2"/>
<circle cx="597.0" cy="369.4" r="7.2"/>
<circle cx="616.1" cy="378.2" r="7.2"/>
<circle cx="582.9" cy="384.4" r="7.2"/>
<circle cx="590.0" cy="391.4" r="7.2"/>
<circle cx="596.1" cy="388.8" r="7.2"/>
<circle cx="583.8" cy="395.9" r="7.2"/>
<circle cx="593.5" cy="395.0" r="7.2"/>
<circle cx="578.8" cy="404.7" r="7.2"/>
<circle cx="195.8" cy="372.3" r="7.2"/>
<circle cx="195.8" cy="379.0" r="7.2"/>
<circle cx="213.8" cy="365.1" r="7.2"/>
<circle cx="223.9" cy="361.7" r="7.2"/>
<circle cx="211.5" cy="374.1" r="7.2"/>
<circle cx="216.0" cy="382.0" r="7.2"/>
<circle cx="239.6" cy="353.9" r="7.2"/>
<circle cx="246.3" cy="357.9" r="7.2"/>
<circle cx="232.9" cy="375.9" r="7.2"/>
<circle cx="240.1" cy="395.4" r="7.2"/>
<circle cx="268.3" cy="358.8" r="7.2"/>
<circle cx="257.6" cy="379.0" r="7.2"/>
<circle cx="263.2" cy="382.6" r="7.2"/>
<circle cx="292.4" cy="380.8" r="7.2"/>
<circle cx="295.3" cy="349.8" r="7.2"/>
<circle cx="299.8" cy="355.7" r="7.2"/>
<circle cx="329.9" cy="370.1" r="7.2"/>
<circle cx="345.8" cy="383.8" r="7.2"/>
<circle cx="357.5" cy="398.8" r="7.2"/>
<circle cx="369.8" cy="392.7" r="7.2"/>
<circle cx="391.8" cy="368.9" r="7.2"/>
<circle cx="399.7" cy="410.7" r="7.2"/>
<circle cx="733.7" cy="398.8" r="7.2"/>
<circle cx="736.7" cy="407.6" r="7.2"/>
<circle cx="515.9" cy="419.1" r="7.2"/>
<circle cx="508.9" cy="176.8" r="7.2"/>
<circle cx="456.8" cy="393.2" r="7.2"/>
<circle cx="776.2" cy="381.6" r="7.2"/>
<circle cx="435.0" cy="386.7" r="7.2"/>
<circle cx="773.5" cy="387.7" r="7.2"/>
</g>
<g fill="#1E90FF">
<circle cx="1027.1" cy="343.4" r="7.2"/>
<circle cx="1040.1" cy="336.9" r="7.2"/>
<circle cx="861.9" cy="330.4" r="7.2"/>
<circle cx="821.1" cy="357.8" r="7.2"/>
<circle cx="795.9" cy="429.2" r="7.2"/>
<circle cx="802.2" cy="426.5" r="7.2"/>
<circle cx="789.9" cy="448.7" r="7.2"/>
<circle cx="741.7" cy="364.9" r="7.2"/>
<circle cx="480.2" cy="336.2" r="7.2"/>
<circle cx="578.0" cy="335.0" r="7.2"/>
<circle cx="595.6" cy="354.6" r="7.2"/>
<circle cx="597.9" cy="357.0" r="7.2"/>
<circle cx="457.3" cy="267.0" r="7.2"/>
</g>
<g fill="none" stroke="#000" stroke-width="2" stroke-linecap="round" stroke-linejoin="round">
<rect x="157.44" y="157.44" width="1009.92" height="519.72"/>
<line x1="250.72" y1="677.16" x2="250.72" y2="696.36"/>
<line x1="387.07" y1="677.16" x2="387.07" y2="696.36"/>
<line x1="523.42" y1="677.16" x2="523.42" y2="696.36"/>
<line x1="659.77" y1="677.16" x2="659.77" y2="696.36"/>
<line x1="796.12" y1="677.16" x2="796.12" y2="696.36"/>
<line x1="932.47" y1="677.16" x2="932.47" y2="696.36"/>
<line x1="1068.82" y1="677.16" x2="1068.82" y2="696.36"/>
<line x1="157.44" y1="664.72" x2="138.24" y2="664.72"/>
<line x1="157.44" y1="592.79" x2="138.24" y2="592.79"/>
<line x1="157.44" y1="520.86" x2="138.24" y2="520.86"/>
<line x1="157.44" y1="448.93" x2="138.24" y2="448.93"/>
<line x1="157.44" y1="377.00" x2="138.24" y2="377.00"/>
<line x1="157.44" y1="305.07" x2="138.24" y2="305.07"/>
<line x1="157.44" y1="233.14" x2="138.24" y2="233.14"/>
<line x1="157.44" y1="161.21" x2="138.24" y2="161.21"/>
</g>
<text transform="translate(250.72,746.3) scale(1,1.035)" text-anchor="middle">8</text>
<text transform="translate(387.07,746.3) scale(1,1.035)" text-anchor="middle">9</text>
<text transform="translate(523.42,746.3) scale(1,1.035)" text-anchor="middle">10</text>
<text transform="translate(659.77,746.3) scale(1,1.035)" text-anchor="middle">11</text>
<text transform="translate(796.12,746.3) scale(1,1.035)" text-anchor="middle">12</text>
<text transform="translate(932.47,746.3) scale(1,1.035)" text-anchor="middle">13</text>
<text transform="translate(1068.82,746.3) scale(1,1.035)" text-anchor="middle">14</text>
<text x="662.4" y="823.1" text-anchor="middle">Average count</text>
<text transform="translate(111.4,233.14) rotate(-90) scale(1,1.035)" text-anchor="middle">0.2</text>
<text transform="translate(111.4,377.00) rotate(-90) scale(1,1.035)" text-anchor="middle">0.0</text>
<text transform="translate(111.4,520.86) rotate(-90) scale(1,1.035)" text-anchor="middle">-0.2</text>
<text transform="translate(111.4,664.72) rotate(-90) scale(1,1.035)" text-anchor="middle">-0.4</text>
<text transform="translate(34.6,417.3) rotate(-90)" text-anchor="middle">Log-FC (lost/kept)</text>
</svg></body></html>
